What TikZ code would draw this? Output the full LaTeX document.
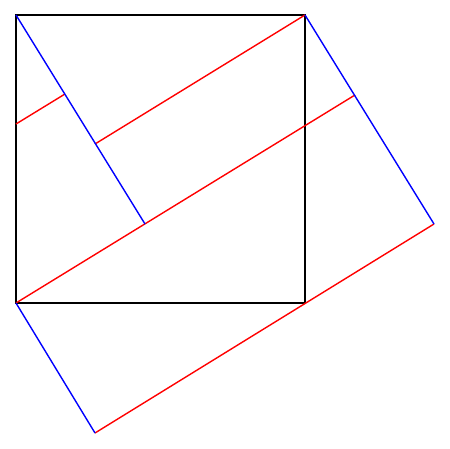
\documentclass[tikz,border=0pt]{standalone}
\begin{document}
\begin{tikzpicture}[x=1pt,y=-1pt,
  sq/.style={draw=black,line width=1.6pt},
  bl/.style={draw=blue,line width=1.4pt},
  rd/.style={draw=red,line width=1.4pt}]
\useasboundingbox (0,0) rectangle (450,449);
\coordinate (A) at (16,15);
\coordinate (B) at (305,15);
\coordinate (C) at (305,303);
\coordinate (D) at (16,303);
\coordinate (E) at (95,433);
\coordinate (F) at (434,224);
\coordinate (G) at (355,95);
\coordinate (H) at (145,224);
\coordinate (P) at (95,144);
\coordinate (Q) at (65,94);
\coordinate (R) at (16,124);
\draw[sq] (A) -- (B) -- (C) -- (D) -- cycle;
\draw[rd] (R) -- (Q);
\draw[rd] (P) -- (B);
\draw[rd] (D) -- (G);
\draw[rd] (E) -- (F);
\draw[bl] (A) -- (H);
\draw[bl] (B) -- (F);
\draw[bl] (D) -- (E);
\end{tikzpicture}
\end{document}
